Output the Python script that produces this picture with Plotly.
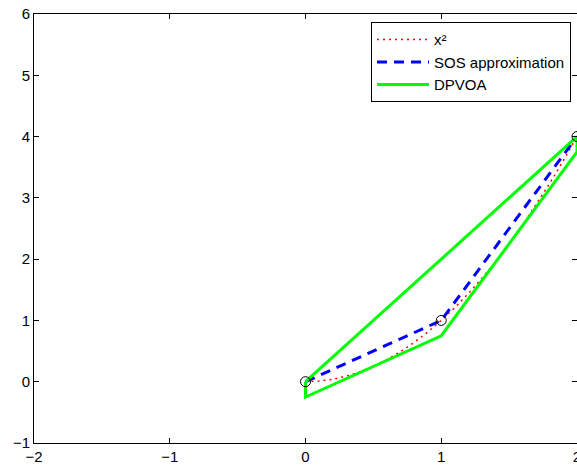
import plotly.graph_objects as go

# x^2 curve samples
x_sq = [0, 0.1, 0.2, 0.3, 0.4, 0.5, 0.6, 0.7, 0.8, 0.9, 1.0, 1.1, 1.2, 1.3, 1.4, 1.5, 1.6, 1.7, 1.8, 1.9, 2.0]
y_sq = [0, 0.01, 0.04, 0.09, 0.16, 0.25, 0.36, 0.49, 0.64, 0.81, 1.0, 1.21, 1.44, 1.69, 1.96, 2.25, 2.56, 2.89, 3.24, 3.61, 4.0]

# SOS approximation
x_sos = [0, 1, 2]
y_sos = [0, 1, 4]

# DPVOA polygon
x_dp = [0, 2, 2, 1, 0, 0]
y_dp = [0, 4, 3.75, 0.75, -0.25, 0]

# sample points
x_pts = [0, 1, 2]
y_pts = [0, 1, 4]

x_ticks = [-2, -1, 0, 1, 2]
y_ticks = [-1, 0, 1, 2, 3, 4, 5, 6]

FONT = "Liberation Sans, Arial, Helvetica"

fig = go.Figure()
fig.add_trace(go.Scatter(x=x_sq, y=y_sq, mode="lines", name="x²",
                         line=dict(color="red", width=1.5, dash="2px,4px")))
fig.add_trace(go.Scatter(x=x_sos, y=y_sos, mode="lines", name="SOS approximation",
                         line=dict(color="blue", width=3, dash="10px,7px")))
fig.add_trace(go.Scatter(x=x_dp, y=y_dp, mode="lines", name="DPVOA",
                         line=dict(color="#00ff00", width=3)))
fig.add_trace(go.Scatter(x=x_pts, y=y_pts, mode="markers", showlegend=False,
                         marker=dict(symbol="circle-open", color="black", size=10,
                                     line=dict(width=1))))

axis_common = dict(showgrid=False, zeroline=False, showline=True, linecolor="black",
                   linewidth=1, mirror="allticks", ticks="inside", ticklen=5,
                   tickcolor="black", ticklabeloverflow="allow",
                   tickfont=dict(family=FONT, size=15, color="black"))

fig.update_layout(
    width=577, height=466,
    margin=dict(l=34, r=0, t=14, b=23, autoexpand=False),
    paper_bgcolor="white", plot_bgcolor="white",
    xaxis=dict(range=[-2, 2], tickvals=x_ticks, **axis_common),
    yaxis=dict(range=[-1, 6], tickvals=y_ticks, **axis_common),
    legend=dict(x=0.989, y=0.981, xanchor="right", yanchor="top",
                bgcolor="white", bordercolor="black", borderwidth=1,
                font=dict(family=FONT, size=15, color="black"),
                tracegroupgap=0, itemwidth=52),
    showlegend=True,
)

fig.write_html("out.html", config={"displayModeBar": False},
               post_script="document.body.style.margin='0';document.body.style.overflow='hidden';")
